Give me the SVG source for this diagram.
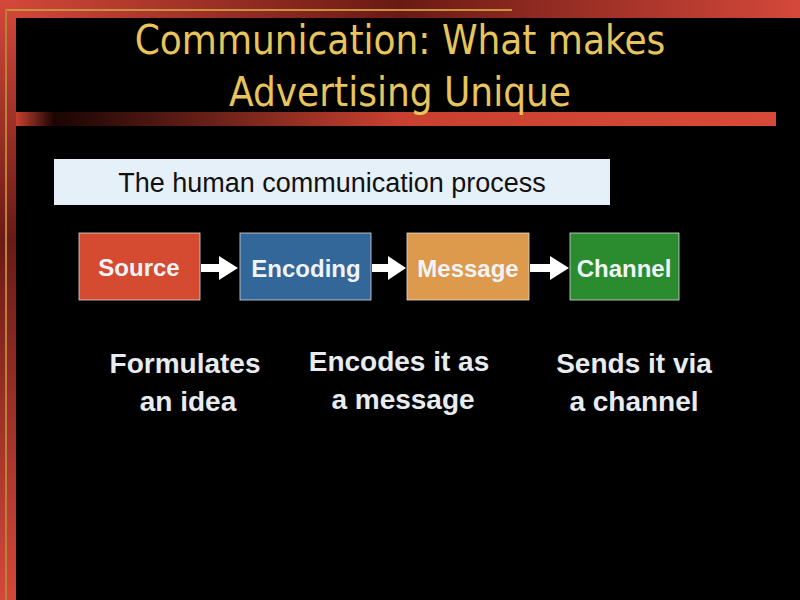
<svg xmlns="http://www.w3.org/2000/svg" width="800" height="600" viewBox="0 0 800 600">
<defs>
<linearGradient id="top" x1="0" x2="1"><stop offset="0" stop-color="#d4483a"/><stop offset="0.5" stop-color="#6a1a14"/><stop offset="1" stop-color="#d4483a"/></linearGradient>
<linearGradient id="left" x1="0" y1="0" x2="0" y2="1"><stop offset="0" stop-color="#d4483a"/><stop offset="0.4" stop-color="#6a1a14"/><stop offset="1" stop-color="#d4483a"/></linearGradient>
<linearGradient id="bar" x1="0" x2="1"><stop offset="0" stop-color="#c8402f"/><stop offset="0.05" stop-color="#1a0503"/><stop offset="0.5" stop-color="#c8402f"/><stop offset="1" stop-color="#d84a38"/></linearGradient>
<style>
.t{font-family:"Liberation Sans",Arial,sans-serif;font-weight:bold;fill:#f0f4f8;font-size:24px;text-anchor:middle}
.d{font-family:"Liberation Sans",Arial,sans-serif;font-weight:bold;fill:#e8ecf0;font-size:28px;text-anchor:middle}
.h{font-family:"DejaVu Sans Condensed","DejaVu Sans",sans-serif;font-size:40px;fill:#e8c45c;text-anchor:middle}
.a{fill:#fff}
</style>
</defs>
<rect width="800" height="600" fill="#000"/>
<rect x="0" y="0" width="800" height="18" fill="url(#top)"/>
<rect x="0" y="0" width="16" height="600" fill="url(#left)"/>
<rect x="5" y="9" width="507" height="2" fill="#c89040"/>
<rect x="5" y="9" width="2" height="591" fill="#b8803a"/>
<rect x="16" y="18" width="784" height="582" fill="#000"/>
<rect x="16" y="112" width="760" height="14" fill="url(#bar)"/>
<text class="h" x="400" y="54">Communication: What makes</text>
<text class="h" x="400" y="106">Advertising Unique</text>
<rect x="54" y="159" width="556" height="46" fill="#e6f0f8"/>
<text x="332" y="192" font-family="'Liberation Sans',Arial,sans-serif" font-size="27" fill="#111" text-anchor="middle">The human communication process</text>
<g id="source"><rect x="79" y="233" width="121" height="67" fill="#d54b31" stroke="#ddd" stroke-width="0.8"/><text class="t" x="139" y="276">Source</text></g>
<g id="encoding"><rect x="240" y="233" width="131" height="67" fill="#336699" stroke="#ddd" stroke-width="0.8"/><text class="t" x="306" y="277">Encoding</text></g>
<g id="message"><rect x="407" y="233" width="122" height="67" fill="#de9a4c" stroke="#ddd" stroke-width="0.8"/><text class="t" x="468" y="277">Message</text></g>
<g id="channel"><rect x="570" y="233" width="109" height="67" fill="#2a8c2e" stroke="#ddd" stroke-width="0.8"/><text class="t" x="624" y="277">Channel</text></g>
<g id="connectors">
<path class="a" d="M201,264 h18 v-8 l19,12 l-19,12 v-8 h-18 z"/>
<path class="a" d="M372,264 h16 v-8 l18,12 l-18,12 v-8 h-16 z"/>
<path class="a" d="M530,264 h20 v-8 l19,12 l-19,12 v-8 h-20 z"/>
</g>
<text class="d" x="185" y="373">Formulates</text>
<text class="d" x="188" y="411">an idea</text>
<text class="d" x="399" y="371">Encodes it as</text>
<text class="d" x="403" y="409">a message</text>
<text class="d" x="634" y="373">Sends it via</text>
<text class="d" x="634" y="411">a channel</text>
</svg>
